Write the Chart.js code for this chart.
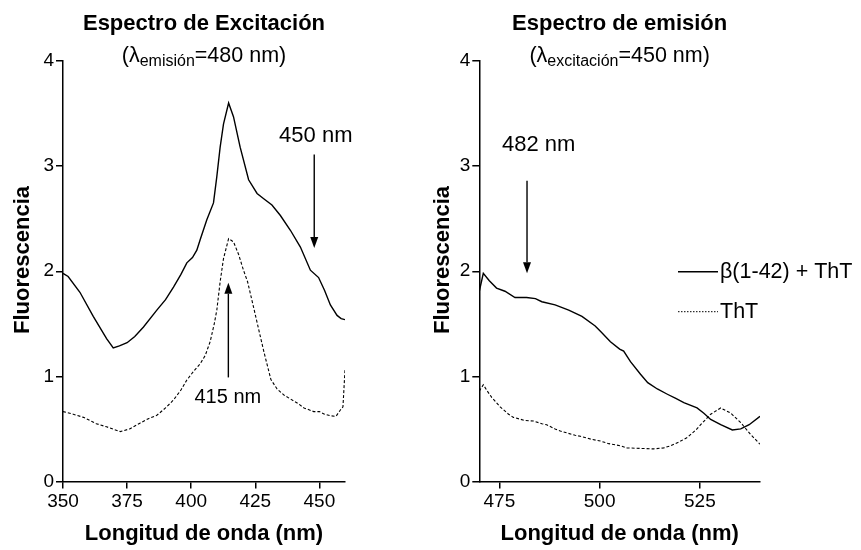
<!DOCTYPE html>
<html>
<head>
<meta charset="utf-8">
<script src="https://cdn.jsdelivr.net/npm/chart.js@4.4.1/dist/chart.umd.min.js"></script>
<style>
  html, body { margin: 0; padding: 0; background: #fff; }
  body { width: 861px; height: 550px; position: relative; overflow: hidden; }
  .box { position: absolute; top: 0; height: 550px; }
  #leftBox { left: 0; width: 420px; }
  #rightBox { left: 420px; width: 441px; }
</style>
</head>
<body>
<div id="leftBox" class="box"><canvas id="cLeft"></canvas></div>
<div id="rightBox" class="box"><canvas id="cRight"></canvas></div>
<script>
// ---------- DATA ----------
const seriesNames = ["β(1-42) + ThT", "ThT"];
const yTicks = [0, 1, 2, 3, 4];

// Excitation spectrum (emission 480 nm)
const excXTicks = [350, 375, 400, 425, 450];
const excSolidX = [350,352,356.6,361.8,367,369.6,372,375,378,381.4,386.6,390,393.1,396,398.3,400.5,402.2,403.5,406.1,408.7,410,411.3,412.6,414.6,416.5,419.1,422.4,425.7,428.3,431.5,434.8,438.7,442.6,446.5,449.7,452,454.3,456.9,458.5,460];
const excSolidY = [1.98,1.95,1.80,1.57,1.36,1.27,1.29,1.32,1.38,1.47,1.63,1.73,1.85,1.97,2.08,2.13,2.20,2.30,2.49,2.65,2.90,3.18,3.40,3.60,3.47,3.18,2.87,2.74,2.69,2.63,2.53,2.39,2.23,2.01,1.94,1.82,1.68,1.58,1.55,1.54];
const excDashX = [350,354,358,363,367,372.3,376,380,383.5,386.6,390,393.1,396,398.3,401,403.5,405.5,407.4,409,410,411.3,412.6,414.6,416.5,418.5,420.4,422,424.6,426.3,428.5,431.1,433.5,436.3,441.5,444,447.8,450,452,454.3,456.5,458.2,459.2,460];
const excDashY = [0.665,0.64,0.61,0.55,0.52,0.475,0.50,0.555,0.60,0.63,0.70,0.775,0.87,0.965,1.05,1.12,1.20,1.33,1.50,1.63,1.90,2.12,2.31,2.28,2.16,2.01,1.90,1.63,1.45,1.22,0.97,0.88,0.82,0.745,0.70,0.665,0.665,0.64,0.625,0.62,0.68,0.71,1.06];

// Emission spectrum (excitation 450 nm)
const emiXTicks = [475, 500, 525];
const emiSolidX = [470,471,472.5,474.3,476.4,478.9,481.8,484,485.6,488.9,492.3,495.6,498.9,500.2,502.7,505,506,507.7,510.2,512,514.4,516.9,519,521,524.3,526,527.7,530.2,533.1,535.2,537.3,540];
const emiSolidY = [1.81,1.98,1.91,1.84,1.81,1.75,1.75,1.74,1.71,1.68,1.63,1.57,1.48,1.43,1.33,1.26,1.24,1.14,1.02,0.94,0.88,0.83,0.79,0.75,0.70,0.65,0.59,0.54,0.49,0.50,0.54,0.62];
const emiDashX = [470,471,472,473.1,475.2,477.3,478.5,481.4,483.5,485.6,486.8,488.9,490.2,493.9,495.2,498.1,500.2,502.3,505.2,506.8,510,513.5,516,517.7,520,521.9,524,525.2,527.7,530.2,532.7,535.2,537.6,540];
const emiDashY = [0.86,0.92,0.86,0.80,0.71,0.64,0.61,0.58,0.575,0.55,0.54,0.50,0.48,0.44,0.43,0.40,0.385,0.36,0.34,0.32,0.315,0.31,0.32,0.34,0.38,0.42,0.49,0.54,0.64,0.70,0.65,0.56,0.45,0.355];

// Annotations: label, x (nm), label y, arrow from y, arrow to y
const excNotes = [
  { text: "450 nm", x: 448, labelX: 448.6, labelY: 3.29, from: 3.11, to: 2.22, size: 22 },
  { text: "415 nm", x: 414.5, labelX: 414.3, labelY: 0.80, from: 0.99, to: 1.89, size: 20 }
];
const emiNotes = [
  { text: "482 nm", x: 481.9, labelX: 484.8, labelY: 3.20, from: 2.86, to: 1.98, size: 22 }
];

// ---------- helpers ----------
const FONT = '"Liberation Sans", Arial, Helvetica, sans-serif';
Chart.defaults.font.family = FONT;
Chart.defaults.color = '#000';

function pts(xs, ys) { return xs.map((x, i) => ({ x: x, y: ys[i] })); }

function drawArrow(ctx, x, y1, y2) {
  const dir = y2 > y1 ? 1 : -1;
  const head = 11;
  ctx.save();
  ctx.strokeStyle = '#000';
  ctx.fillStyle = '#000';
  ctx.lineWidth = 1.4;
  ctx.beginPath();
  ctx.moveTo(x, y1);
  ctx.lineTo(x, y2 - dir * head);
  ctx.stroke();
  ctx.beginPath();
  ctx.moveTo(x, y2);
  ctx.lineTo(x - 4, y2 - dir * head);
  ctx.lineTo(x + 4, y2 - dir * head);
  ctx.closePath();
  ctx.fill();
  ctx.restore();
}

const decoPlugin = {
  id: 'deco',
  afterDraw(chart, args, opts) {
    const ctx = chart.ctx;
    const area = chart.chartArea;
    const cx = (area.left + area.right) / 2;
    const xs = chart.scales.x, ys = chart.scales.y;
    ctx.save();
    ctx.fillStyle = '#000';
    // Title
    ctx.font = 'bold 22px ' + FONT;
    ctx.textAlign = 'center';
    ctx.textBaseline = 'alphabetic';
    ctx.fillText(opts.title, cx, 29.5);
    // Subtitle with subscript
    const mainFont = '21.5px ' + FONT, subFont = '16px ' + FONT;
    ctx.font = mainFont; const w1 = ctx.measureText(opts.subPre).width; const w3 = ctx.measureText(opts.subPost).width;
    ctx.font = subFont; const w2 = ctx.measureText(opts.subSub).width;
    let sx = cx - (w1 + w2 + w3) / 2;
    ctx.textAlign = 'left';
    ctx.font = mainFont; ctx.fillText(opts.subPre, sx, 61.5); sx += w1;
    ctx.font = subFont; ctx.fillText(opts.subSub, sx, 65.5); sx += w2;
    ctx.font = mainFont; ctx.fillText(opts.subPost, sx, 61.5);
    // Y axis title
    ctx.save();
    ctx.translate(opts.yTitleX, 260);
    ctx.rotate(-Math.PI / 2);
    ctx.font = 'bold 22px ' + FONT;
    ctx.textAlign = 'center';
    ctx.textBaseline = 'middle';
    ctx.fillText('Fluorescencia', 0, 0);
    ctx.restore();
    // Annotations
    (opts.notes || []).forEach(n => {
      const px = xs.getPixelForValue(n.x);
      drawArrow(ctx, px, ys.getPixelForValue(n.from), ys.getPixelForValue(n.to));
      ctx.font = n.size + 'px ' + FONT;
      ctx.textAlign = 'center';
      ctx.textBaseline = 'middle';
      ctx.fillText(n.text, xs.getPixelForValue(n.labelX), ys.getPixelForValue(n.labelY));
    });
    // Legend
    if (opts.legend) {
      const L = opts.legend;
      chart.data.datasets.forEach((ds, i) => {
        const y = L.y + i * L.gap;
        ctx.save();
        ctx.strokeStyle = '#000';
        ctx.lineWidth = i === 0 ? 1.4 : 1;
        ctx.setLineDash(i === 0 ? [] : [1.5, 1.5]);
        ctx.beginPath();
        ctx.moveTo(L.x, y);
        ctx.lineTo(L.x + 40, y);
        ctx.stroke();
        ctx.restore();
        ctx.font = '21.5px ' + FONT;
        ctx.textAlign = 'left';
        ctx.textBaseline = 'middle';
        ctx.fillText(ds.label, L.x + 42, y);
      });
    }
    ctx.restore();
  }
};

function makeChart(canvasId, cfg) {
  return new Chart(document.getElementById(canvasId), {
    type: 'line',
    data: {
      datasets: [
        { label: seriesNames[0], data: pts(cfg.solidX, cfg.solidY), borderColor: '#000', borderWidth: 1.4, pointRadius: 0, tension: 0, fill: false },
        { label: seriesNames[1], data: pts(cfg.dashX, cfg.dashY), borderColor: '#000', borderWidth: 1.1, borderDash: [3, 2], pointRadius: 0, tension: 0, fill: false }
      ]
    },
    options: {
      responsive: true,
      maintainAspectRatio: false,
      animation: false,
      devicePixelRatio: 1,
      layout: { padding: cfg.padding },
      plugins: {
        legend: { display: false },
        tooltip: { enabled: false },
        deco: cfg.deco
      },
      scales: {
        x: {
          type: 'linear',
          min: cfg.xmin, max: cfg.xmax,
          afterBuildTicks: s => { s.ticks = cfg.xTicks.map(v => ({ value: v })); },
          afterFit: s => { s.height = 68.5; },
          ticks: { font: { size: 19 }, color: '#000', padding: 2, maxRotation: 0 },
          grid: { drawOnChartArea: false, drawTicks: true, tickLength: 7, color: '#000', lineWidth: 1.5 },
          border: { display: true, color: '#000', width: 1.5 },
          title: { display: true, text: 'Longitud de onda (nm)', font: { size: 22, weight: 'bold' }, color: '#000', padding: { top: 0, bottom: 3 } }
        },
        y: {
          type: 'linear',
          min: 0, max: 4,
          afterBuildTicks: s => { s.ticks = yTicks.map(v => ({ value: v })); },
          afterFit: s => { s.width = cfg.yWidth; },
          ticks: { font: { size: 19 }, color: '#000', padding: 2 },
          grid: { drawOnChartArea: false, drawTicks: true, tickLength: 7, color: '#000', lineWidth: 1.5 },
          border: { display: true, color: '#000', width: 1.5 },
          title: { display: false }
        }
      }
    },
    plugins: [decoPlugin]
  });
}

makeChart('cLeft', {
  solidX: excSolidX, solidY: excSolidY, dashX: excDashX, dashY: excDashY,
  xmin: 350, xmax: 460, xTicks: excXTicks,
  padding: { left: 6, right: 75, top: 61, bottom: 0 },
  yWidth: 57,
  deco: { title: 'Espectro de Excitación', subPre: '(λ', subSub: 'emisión', subPost: '=480 nm)', notes: excNotes, yTitleX: 23 }
});

makeChart('cRight', {
  solidX: emiSolidX, solidY: emiSolidY, dashX: emiDashX, dashY: emiDashY,
  xmin: 470, xmax: 540, xTicks: emiXTicks,
  padding: { left: 6, right: 101, top: 61, bottom: 0 },
  yWidth: 53.3,
  deco: { title: 'Espectro de emisión', subPre: '(λ', subSub: 'excitación', subPost: '=450 nm)', notes: emiNotes,
          legend: { x: 258, y: 271.7, gap: 40 }, yTitleX: 22.5 }
});
</script>
</body>
</html>
